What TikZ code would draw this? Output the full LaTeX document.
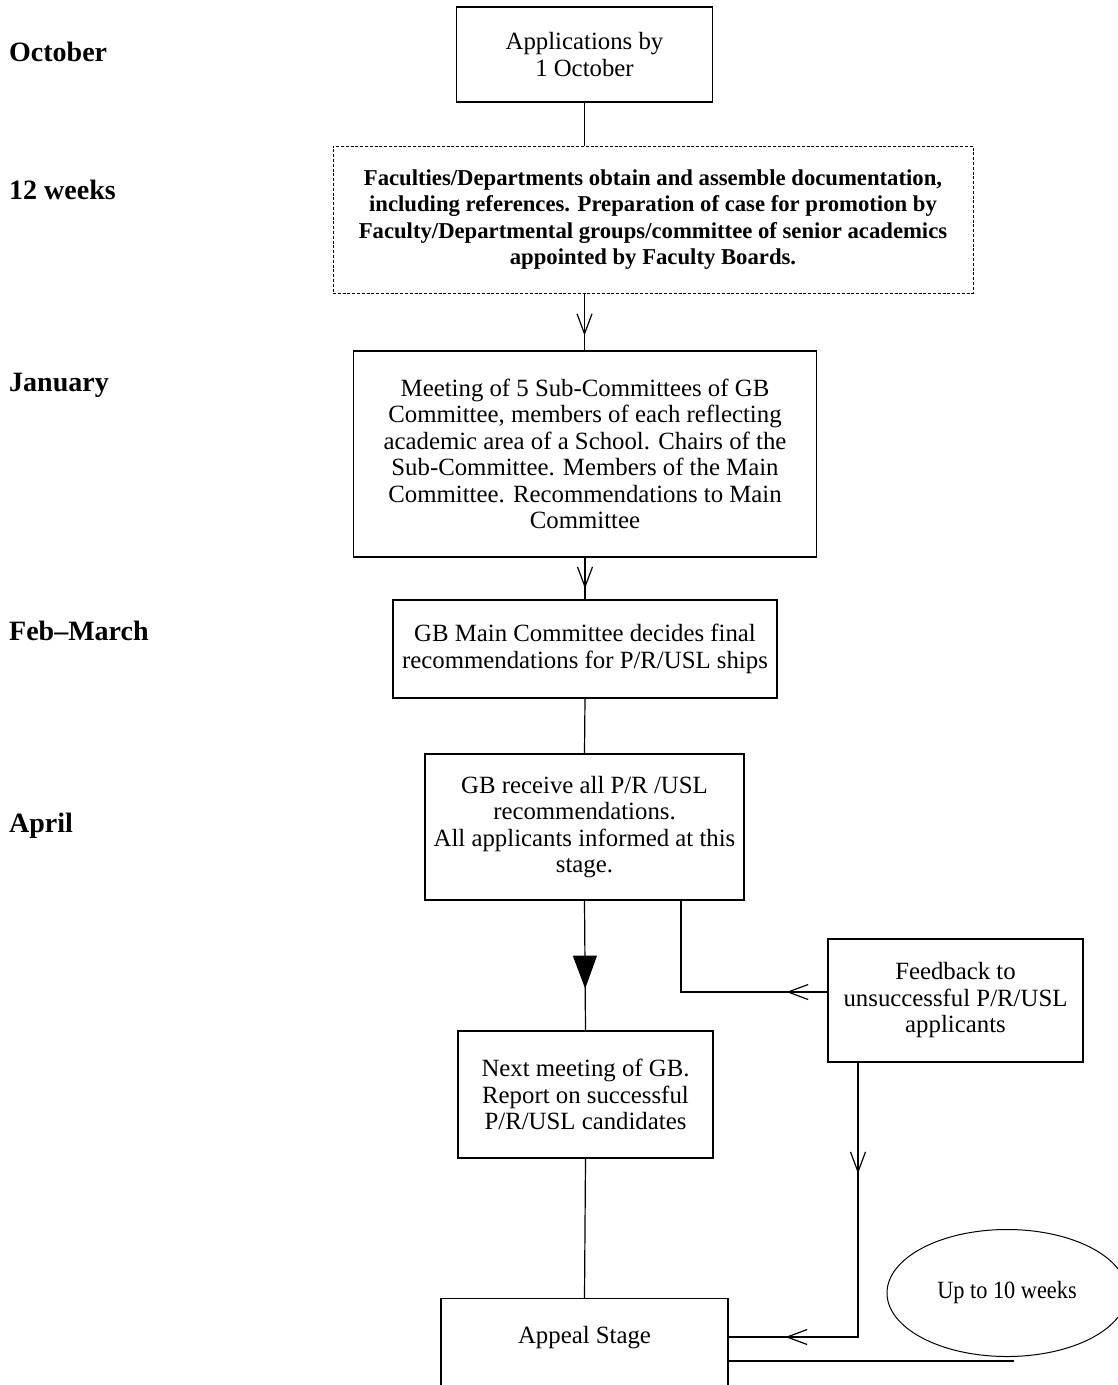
\documentclass[tikz,border=0pt]{standalone}
\usepackage{fontspec}
\setmainfont{Liberation Serif}
\newfontfamily\condfont[FakeStretch=0.9]{Liberation Serif}
\usetikzlibrary{arrows.meta,decorations.markings,shapes.geometric}
\begin{document}
\begin{tikzpicture}[x=1pt,y=-1pt,
  box/.style={draw, line width=1.2pt, inner sep=0pt, align=center,
    font=\fontsize{24.8}{26.5}\selectfont},
  dbox/.style={draw, line width=1pt, dash pattern=on 3pt off 1.8pt, inner sep=0pt, align=center,
    font=\fontsize{22.7}{26.5}\selectfont\bfseries},
  month/.style={anchor=west, inner sep=0pt, font=\fontsize{28}{30}\selectfont\bfseries},
  conn/.style={line width=1.2pt},
  vtip/.tip={Straight Barb[length=20pt,width=15pt,line width=1.2pt]},
  vmark/.style={postaction={decorate}, decoration={markings,
    mark=at position #1 with {\arrow{vtip}}}},
  tmark/.style={postaction={decorate}, decoration={markings,
    mark=at position #1 with {\arrow{Triangle[length=33pt,width=24pt]}}}},
]
\useasboundingbox (0,0) rectangle (1118,1385);

% month labels
\node[month] (m1) at (9,52) {October};
\node[month] (m2) at (9,190) {12 weeks};
\node[month] (m3) at (9,385) {January};
\node[month] (m4) at (9,631) {Feb--March};
\node[month] (m5) at (9,826) {April};

% boxes
\node[box, minimum width=256pt, minimum height=95pt] (b1) at (584.5,54.5)
  {Applications by\\1 October};
\node[dbox, minimum width=640pt, minimum height=147pt] (b2) at (653,219.5)
  {Faculties/Departments obtain and assemble documentation,\\
   including references. Preparation of case for promotion by\\
   Faculty/Departmental groups/committee of senior academics\\
   appointed by Faculty Boards.};
\node[box, minimum width=463pt, minimum height=206pt] (b3) at (585,454)
  {Meeting of 5 Sub-Committees of GB\\
   Committee, members of each reflecting\\
   academic area of a School. Chairs of the\\
   Sub-Committee. Members of the Main\\
   Committee. Recommendations to Main\\
   Committee};
\node[box, minimum width=384pt, minimum height=98pt] (b4) at (585,649)
  {GB Main Committee decides final\\recommendations for P/R/USL ships};
\node[box, minimum width=319pt, minimum height=146pt] (b5) at (584.5,827)
  {GB receive all P/R /USL\\recommendations.\\All applicants informed at this\\stage.};
\node[box, minimum width=255pt, minimum height=127pt] (b6) at (585.5,1094.5)
  {Next meeting of GB.\\Report on successful\\P/R/USL candidates};
\node[box, minimum width=255pt, minimum height=123pt] (b7) at (955.5,1000.5)
  {Feedback to\\unsuccessful P/R/USL\\applicants};
\node[box, anchor=north, minimum width=287pt, text height=45pt, text depth=80pt] (b8)
  at (584.5,1298) {Appeal Stage};
\node[draw, ellipse, line width=1pt, inner sep=0pt, minimum width=240pt, minimum height=127pt,
  font=\fontsize{24.8}{26.5}\condfont] (e1) at (1007,1293) {Up to 10 weeks};

% connectors
\coordinate (c1) at (681,992);
\coordinate (c2) at (858,1337);
\draw[conn] (b1.south) -- (b1.south |- b2.north);
\draw[conn, vmark=42pt] (b1.south |- b2.south) -- (b1.south |- b3.north);
\draw[conn, vmark=31pt] (b3.south) -- (b4.north);
\draw[conn] (b4.south) -- (b5.north);
\draw[conn, tmark=88pt] (b5.south) -- (b6.north);
\draw[conn] (b6.south) -- (b8.north);
\draw[conn, vmark=41pt] ([yshift=8.5pt]b7.west) -- (c1) -- (c1 |- b5.south);
\draw[conn, postaction={decorate}, decoration={markings,
    mark=at position 111pt with {\arrow{vtip}},
    mark=at position 347pt with {\arrow{vtip}}}]
  (c2 |- b7.south) -- (c2) -- (c2 -| b8.east);
\draw[conn] ([yshift=-63pt]b8.north east) -- ([yshift=-63pt,xshift=7pt]b8.north east -| e1.south);
\end{tikzpicture}
\end{document}
